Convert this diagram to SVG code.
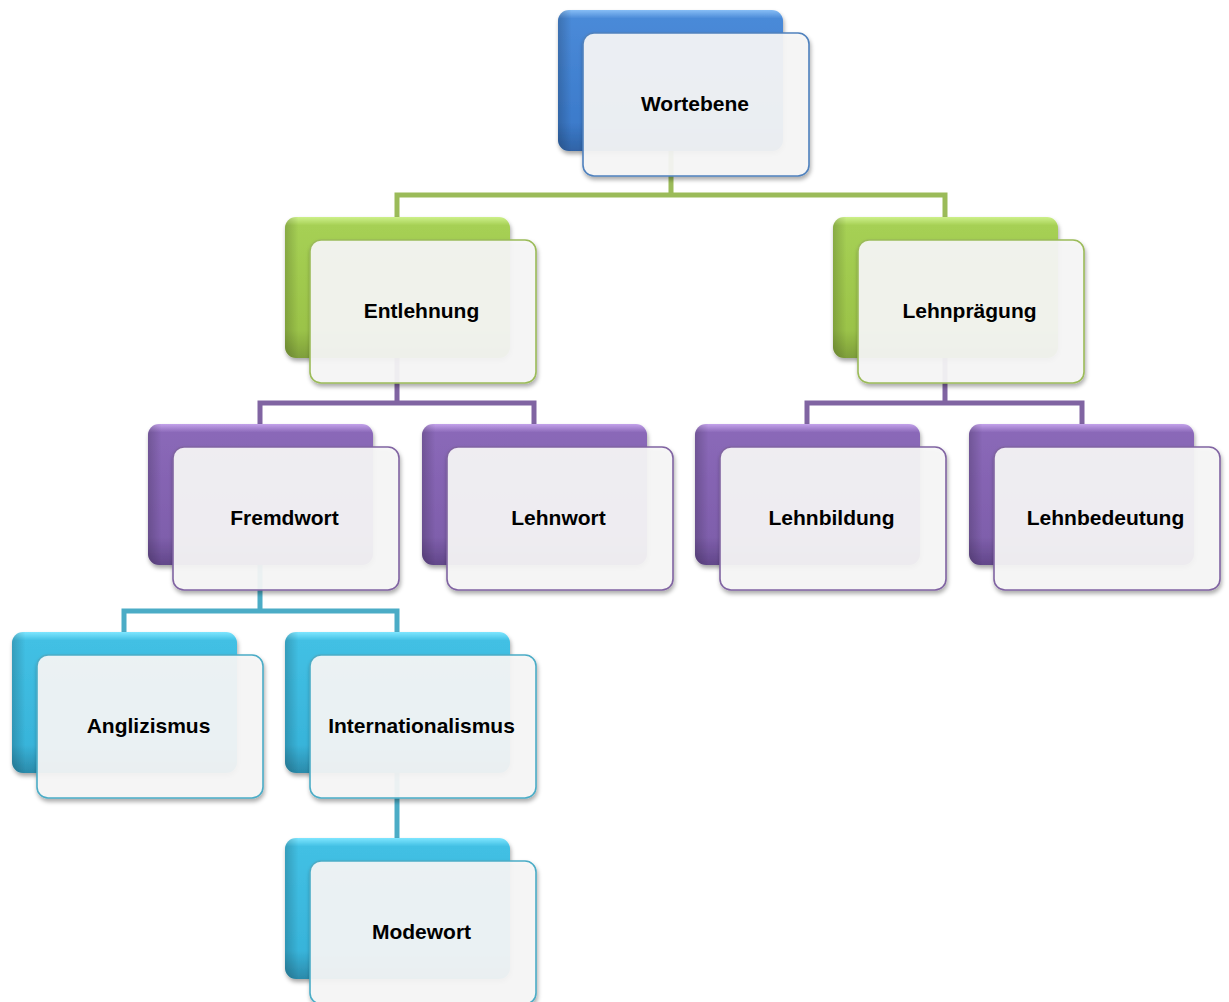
<svg xmlns="http://www.w3.org/2000/svg" width="1229" height="1002" viewBox="0 0 1229 1002">
  <defs>
    <linearGradient id="gBlue" x1="0" y1="0" x2="0" y2="1">
      <stop offset="0" stop-color="#86bdf5"/>
      <stop offset="0.06" stop-color="#4a8ad8"/>
      <stop offset="0.8" stop-color="#3c7bcb"/>
      <stop offset="1" stop-color="#2f63a6"/>
    </linearGradient>
    <linearGradient id="gGreen" x1="0" y1="0" x2="0" y2="1">
      <stop offset="0" stop-color="#cdf08a"/>
      <stop offset="0.06" stop-color="#a6d054"/>
      <stop offset="0.8" stop-color="#9bc349"/>
      <stop offset="1" stop-color="#7e9e3a"/>
    </linearGradient>
    <linearGradient id="gPurple" x1="0" y1="0" x2="0" y2="1">
      <stop offset="0" stop-color="#c3a2ea"/>
      <stop offset="0.06" stop-color="#8a68b8"/>
      <stop offset="0.8" stop-color="#7f5fac"/>
      <stop offset="1" stop-color="#62478a"/>
    </linearGradient>
    <linearGradient id="gCyan" x1="0" y1="0" x2="0" y2="1">
      <stop offset="0" stop-color="#7ee6ff"/>
      <stop offset="0.06" stop-color="#42c0e4"/>
      <stop offset="0.8" stop-color="#38b4da"/>
      <stop offset="1" stop-color="#2b8aaa"/>
    </linearGradient>
    <linearGradient id="gShade" x1="0" y1="0" x2="1" y2="0">
      <stop offset="0" stop-color="#000" stop-opacity="0.18"/>
      <stop offset="0.06" stop-color="#000" stop-opacity="0"/>
      <stop offset="1" stop-color="#000" stop-opacity="0"/>
    </linearGradient>
    <filter id="sh" x="-10%" y="-10%" width="125%" height="130%">
      <feDropShadow dx="1" dy="3" stdDeviation="2" flood-color="#000" flood-opacity="0.35"/>
    </filter>
  </defs>
  <style>
    .back { filter: url(#sh); }
    .shade { fill: url(#gShade); }
    .front { fill: #f7f7f7; fill-opacity: 0.92; stroke-width: 1.6; filter: url(#sh); }
    .blue .back { fill: url(#gBlue); }
    .blue .front { stroke: #4f81bd; }
    .green .back { fill: url(#gGreen); }
    .green .front { stroke: #9bbb59; }
    .purple .back { fill: url(#gPurple); }
    .purple .front { stroke: #8064a2; }
    .cyan .back { fill: url(#gCyan); }
    .cyan .front { stroke: #4bacc6; }
    .lbl { font-family: "Liberation Sans", Arial, sans-serif; font-size: 21px; font-weight: bold; fill: #000; text-anchor: middle; }
    .conn { fill: none; stroke-width: 5; stroke-linejoin: miter; }
    .cg { stroke: #9bbb59; }
    .cp { stroke: #8064a2; }
    .cc { stroke: #4bacc6; }
  </style>

  <g id="connectors">
    <path class="conn cg" d="M671 150 V195 M397 217 V195 H945 V217"/>
    <path class="conn cp" d="M397 357 V403 M260 424 V403 H534 V424"/>
    <path class="conn cp" d="M945 357 V403 M807 424 V403 H1082 V424"/>
    <path class="conn cc" d="M260 565 V611 M124 632 V611 H397 V632"/>
    <path class="conn cc" d="M397 773 V838"/>
  </g>

  <g id="node-wortebene" class="blue" transform="translate(558,10)">
    <rect class="back" x="0" y="0" width="225" height="141" rx="11"/>
    <rect class="shade" x="0" y="0" width="225" height="141" rx="11"/>
    <rect class="front" x="25" y="23" width="226" height="143" rx="11"/>
    <text class="lbl" x="137" y="101">Wortebene</text>
  </g>
  <g id="node-entlehnung" class="green" transform="translate(285,217)">
    <rect class="back" x="0" y="0" width="225" height="141" rx="11"/>
    <rect class="shade" x="0" y="0" width="225" height="141" rx="11"/>
    <rect class="front" x="25" y="23" width="226" height="143" rx="11"/>
    <text class="lbl" x="136.5" y="101">Entlehnung</text>
  </g>
  <g id="node-lehnpraegung" class="green" transform="translate(833,217)">
    <rect class="back" x="0" y="0" width="225" height="141" rx="11"/>
    <rect class="shade" x="0" y="0" width="225" height="141" rx="11"/>
    <rect class="front" x="25" y="23" width="226" height="143" rx="11"/>
    <text class="lbl" x="136.5" y="101">Lehnprägung</text>
  </g>
  <g id="node-fremdwort" class="purple" transform="translate(148,424)">
    <rect class="back" x="0" y="0" width="225" height="141" rx="11"/>
    <rect class="shade" x="0" y="0" width="225" height="141" rx="11"/>
    <rect class="front" x="25" y="23" width="226" height="143" rx="11"/>
    <text class="lbl" x="136.5" y="101">Fremdwort</text>
  </g>
  <g id="node-lehnwort" class="purple" transform="translate(422,424)">
    <rect class="back" x="0" y="0" width="225" height="141" rx="11"/>
    <rect class="shade" x="0" y="0" width="225" height="141" rx="11"/>
    <rect class="front" x="25" y="23" width="226" height="143" rx="11"/>
    <text class="lbl" x="136.5" y="101">Lehnwort</text>
  </g>
  <g id="node-lehnbildung" class="purple" transform="translate(695,424)">
    <rect class="back" x="0" y="0" width="225" height="141" rx="11"/>
    <rect class="shade" x="0" y="0" width="225" height="141" rx="11"/>
    <rect class="front" x="25" y="23" width="226" height="143" rx="11"/>
    <text class="lbl" x="136.5" y="101">Lehnbildung</text>
  </g>
  <g id="node-lehnbedeutung" class="purple" transform="translate(969,424)">
    <rect class="back" x="0" y="0" width="225" height="141" rx="11"/>
    <rect class="shade" x="0" y="0" width="225" height="141" rx="11"/>
    <rect class="front" x="25" y="23" width="226" height="143" rx="11"/>
    <text class="lbl" x="136.5" y="101">Lehnbedeutung</text>
  </g>
  <g id="node-anglizismus" class="cyan" transform="translate(12,632)">
    <rect class="back" x="0" y="0" width="225" height="141" rx="11"/>
    <rect class="shade" x="0" y="0" width="225" height="141" rx="11"/>
    <rect class="front" x="25" y="23" width="226" height="143" rx="11"/>
    <text class="lbl" x="136.5" y="101">Anglizismus</text>
  </g>
  <g id="node-internationalismus" class="cyan" transform="translate(285,632)">
    <rect class="back" x="0" y="0" width="225" height="141" rx="11"/>
    <rect class="shade" x="0" y="0" width="225" height="141" rx="11"/>
    <rect class="front" x="25" y="23" width="226" height="143" rx="11"/>
    <text class="lbl" x="136.5" y="101">Internationalismus</text>
  </g>
  <g id="node-modewort" class="cyan" transform="translate(285,838)">
    <rect class="back" x="0" y="0" width="225" height="141" rx="11"/>
    <rect class="shade" x="0" y="0" width="225" height="141" rx="11"/>
    <rect class="front" x="25" y="23" width="226" height="143" rx="11"/>
    <text class="lbl" x="136.5" y="101">Modewort</text>
  </g>
</svg>
